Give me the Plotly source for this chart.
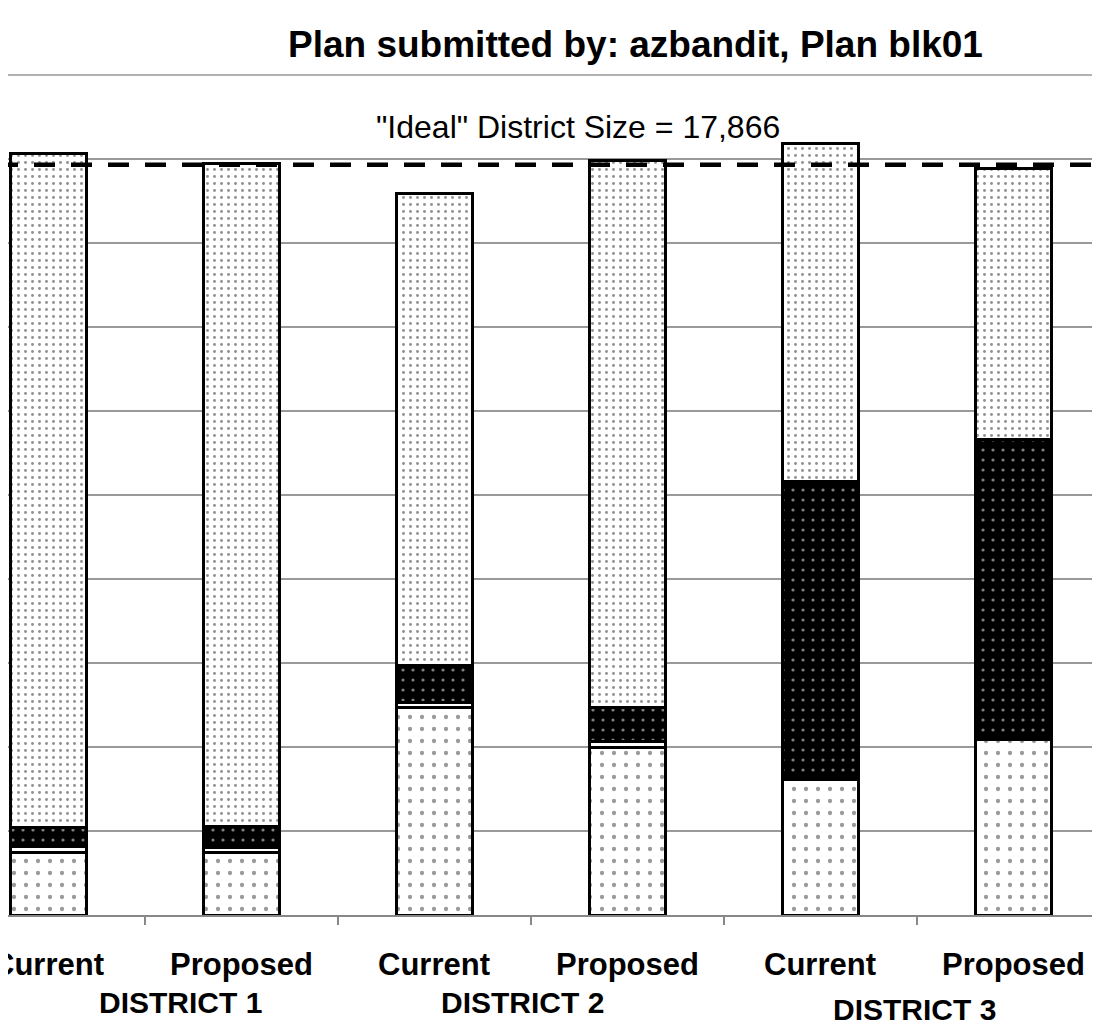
import plotly.graph_objects as go

# ---- data ----
districts = ["DISTRICT 1", "DISTRICT 2", "DISTRICT 3"]
plans = ["Current", "Proposed", "Current", "Proposed", "Current", "Proposed"]
IDEAL = 17866
Y_MAX = 20000
Y_STEP = 2000

seg_a = [1490, 1480, 4940, 3980, 3220, 4170]      # bottom (chevron pattern)
seg_b = [130, 130, 130, 140, 50, 30]              # thin white segment
seg_c = [470, 500, 880, 810, 7050, 7130]          # black dotted
seg_d = [16030, 15780, 11225, 13030, 8040, 6455]  # top light dotted
series_names = ["Hispanic", "Other", "Native American", "Anglo"]

title_text = "Plan submitted by: azbandit, Plan blk01"

FONT = "Liberation Sans, Arial, sans-serif"
xpos = list(range(len(plans)))
PX = 193.0                      # pixels per category
XR = [-0.249 + 8 / PX, -0.249 + 8 / PX + 1100 / PX]

fig = go.Figure()
line = dict(color="black", width=3)
W = 0.394

fig.add_bar(x=xpos, y=seg_a, name=series_names[0], width=W,
            marker=dict(color="white", line=line,
                        pattern=dict(shape=".", bgcolor="white", fgcolor="#333333",
                                     size=12, solidity=0.1)))
fig.add_bar(x=xpos, y=seg_b, name=series_names[1], width=W,
            marker=dict(color="white", line=line))
fig.add_bar(x=xpos, y=seg_c, name=series_names[2], width=W,
            marker=dict(color="black", line=line,
                        pattern=dict(shape=".", bgcolor="black", fgcolor="white",
                                     size=10, solidity=0.08)))
fig.add_bar(x=xpos, y=seg_d, name=series_names[3], width=W,
            marker=dict(color="white", line=line,
                        pattern=dict(shape=".", bgcolor="white", fgcolor="#222222",
                                     size=7, solidity=0.14)))

fig.add_shape(type="line", xref="paper", yref="y", x0=-0.01, x1=1.01, y0=IDEAL, y1=IDEAL,
              line=dict(color="black", width=4.5, dash="21px,16px"), layer="above")
# top grid line of the value axis
fig.add_shape(type="line", xref="paper", yref="paper", x0=-0.01, x1=1.01, y0=1, y1=1,
              line=dict(color="#999999", width=1.5), layer="below")

annotations = [
    dict(text=f"<b>{title_text}</b>", xref="paper", yref="paper", x=(635 - 8) / 1100,
         y=1.036, yanchor="middle", xanchor="center", showarrow=False,
         font=dict(size=37, color="black", family=FONT)),
    dict(text=f'"Ideal" District Size = {IDEAL:,}', xref="paper", yref="paper",
         x=(578 - 8) / 1100, y=0.938, yanchor="middle", xanchor="center", showarrow=False,
         font=dict(size=32, color="black", family=FONT)),
]
for i, p in enumerate(plans):
    annotations.append(dict(text=f"<b>{p}</b>", xref="x", yref="paper", x=i, y=-0.0595,
                            yanchor="middle", xanchor="center", showarrow=False,
                            font=dict(size=31, color="black", family=FONT)))
dist_x = [0.684, 2.456, 4.487]
dist_y = [-0.1045, -0.1045, -0.112]
for d, dx, dy in zip(districts, dist_x, dist_y):
    annotations.append(dict(text=f"<b>{d}</b>", xref="x", yref="paper", x=dx, y=dy,
                            yanchor="middle", xanchor="center", showarrow=False,
                            font=dict(size=30, color="black", family=FONT)))

fig.update_layout(
    width=1100, height=1023,
    barmode="stack", showlegend=False,
    plot_bgcolor="white", paper_bgcolor="white",
    margin=dict(l=0, r=0, t=67, b=116),
    annotations=annotations,
    xaxis=dict(range=XR, tickvals=[0.5, 1.5, 2.5, 3.5, 4.5], ticktext=[""] * 5,
               ticks="outside", ticklen=8, tickcolor="#888888", tickwidth=1.5,
               showline=True, linecolor="#888888", linewidth=1.5, showgrid=False,
               zeroline=False),
    yaxis=dict(range=[0, Y_MAX], tickvals=list(range(Y_STEP, Y_MAX, Y_STEP)),
               showticklabels=False, showgrid=True,
               gridcolor="#999999", gridwidth=1.5, zeroline=False, showline=False),
)

fig.write_html("out.html")
